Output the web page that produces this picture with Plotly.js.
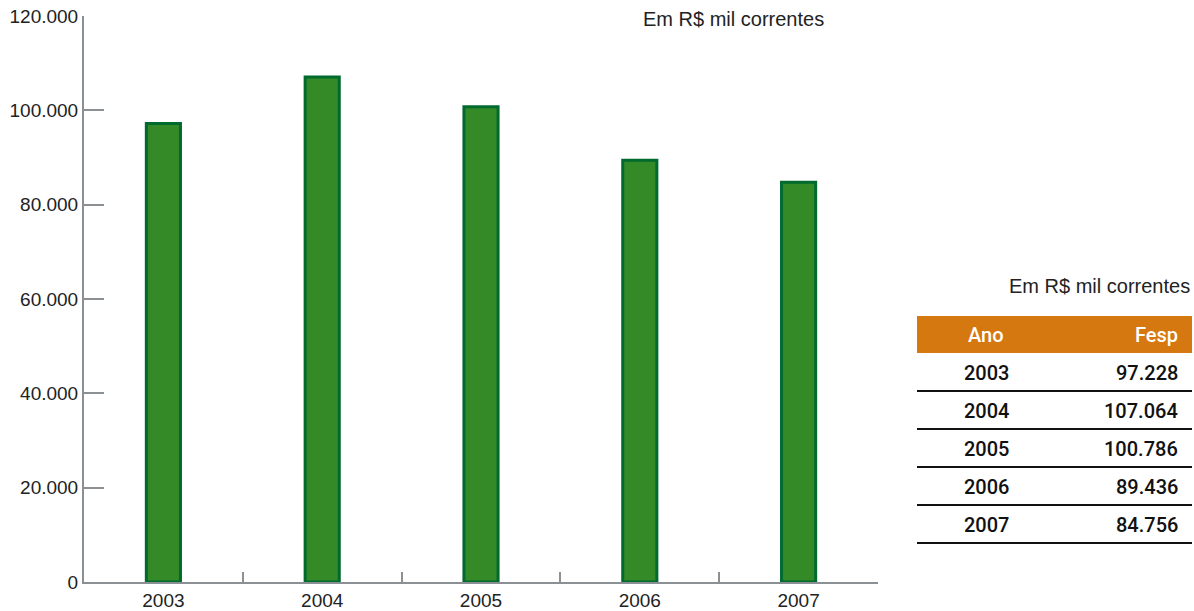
<!DOCTYPE html>
<html>
<head>
<meta charset="utf-8">
<script src="https://cdn.plot.ly/plotly-3.0.1.min.js"></script>
<style>
  html, body { margin: 0; padding: 0; background: #ffffff; }
  #chart { width: 1194px; height: 611px; }
</style>
</head>
<body>
<div id="chart"></div>
<script>
// Fesp, em R$ mil correntes
const anos = ['2003', '2004', '2005', '2006', '2007'];
const fesp = [97228, 107064, 100786, 89436, 84756];
const tickVals = [0, 20000, 40000, 60000, 80000, 100000, 120000];
const unidade = 'Em R$ mil correntes';
const cabecalho = ['Ano', 'Fesp'];

const W = 1194, H = 611;
const M = { l: 84, r: 316, t: 16, b: 29 };
const plotW = W - M.l - M.r;
const plotH = H - M.t - M.b;
// pixel -> paper coordinates
const px = x => (x - M.l) / plotW;
const py = y => 1 - (y - M.t) / plotH;

const FONT = '"Liberation Sans", Arial, sans-serif';
const TABLE_FONT = 'Roboto, "Liberation Sans", Arial, sans-serif';
const AXIS_GREY = '#8b9094';
const TEXT = '#222222';

function fmt(v) {
  return String(v).replace(/\B(?=(\d{3})+(?!\d))/g, '.');
}

const shapes = [];
const annotations = [];

// unit note above the chart
annotations.push({
  xref: 'paper', yref: 'paper', x: px(826), y: py(19),
  xanchor: 'right', yanchor: 'middle', showarrow: false,
  text: unidade, font: { family: FONT, size: 20, color: TEXT }
});

// data table on the right
const tL = 917, tR = 1192, headTop = 316, headBot = 353, rowH = 38;
annotations.push({
  xref: 'paper', yref: 'paper', x: px(1192), y: py(286),
  xanchor: 'right', yanchor: 'middle', showarrow: false,
  text: unidade, font: { family: FONT, size: 20, color: TEXT }
});
shapes.push({
  type: 'rect', xref: 'paper', yref: 'paper',
  x0: px(tL), x1: px(tR), y0: py(headBot), y1: py(headTop),
  fillcolor: '#d5780f', line: { width: 0 }, layer: 'above'
});
annotations.push({
  xref: 'paper', yref: 'paper', x: px(986), y: py(335),
  xanchor: 'center', yanchor: 'middle', showarrow: false,
  text: cabecalho[0], font: { family: TABLE_FONT, size: 20, color: '#ffffff', weight: 500 }
});
annotations.push({
  xref: 'paper', yref: 'paper', x: px(1180), y: py(335),
  xanchor: 'right', yanchor: 'middle', showarrow: false,
  text: cabecalho[1], font: { family: TABLE_FONT, size: 20, color: '#ffffff', weight: 500 }
});
anos.forEach((a, i) => {
  const top = headBot + i * rowH;
  const mid = top + rowH / 2 + 1;
  annotations.push({
    xref: 'paper', yref: 'paper', x: px(986), y: py(mid),
    xanchor: 'center', yanchor: 'middle', showarrow: false,
    text: a, font: { family: TABLE_FONT, size: 20, color: '#111111', weight: 500 }
  });
  annotations.push({
    xref: 'paper', yref: 'paper', x: px(1180), y: py(mid),
    xanchor: 'right', yanchor: 'middle', showarrow: false,
    text: fmt(fesp[i]), font: { family: TABLE_FONT, size: 20, color: '#111111', weight: 500 }
  });
  const ly = top + rowH;
  shapes.push({
    type: 'line', xref: 'paper', yref: 'paper',
    x0: px(tL), x1: px(tR), y0: py(ly), y1: py(ly),
    line: { color: '#111111', width: 2 }
  });
});

const trace = {
  type: 'bar',
  x: anos,
  y: fesp,
  width: 0.215,
  marker: { color: '#348a27', line: { color: '#016a2f', width: 3 } },
  hoverinfo: 'x+y'
};

const layout = {
  width: W, height: H,
  margin: M,
  paper_bgcolor: '#ffffff',
  plot_bgcolor: '#ffffff',
  separators: ',.',
  showlegend: false,
  font: { family: FONT, size: 19, color: TEXT },
  xaxis: {
    type: 'category',
    showline: true, linecolor: AXIS_GREY, linewidth: 2,
    ticks: 'inside', tickson: 'boundaries', ticklen: 10, tickwidth: 2, tickcolor: AXIS_GREY,
    showgrid: false, zeroline: false,
    tickfont: { family: FONT, size: 19, color: TEXT },
    fixedrange: true
  },
  yaxis: {
    range: [0, 120000],
    tickvals: tickVals,
    tickformat: ',.0f',
    showline: true, linecolor: AXIS_GREY, linewidth: 2,
    ticks: 'inside', ticklen: 20, tickwidth: 2, tickcolor: AXIS_GREY,
    showgrid: false, zeroline: false,
    tickfont: { family: FONT, size: 19, color: TEXT },
    fixedrange: true
  },
  shapes: shapes,
  annotations: annotations
};

Plotly.newPlot('chart', [trace], layout, { displayModeBar: false, staticPlot: true });
</script>
</body>
</html>
